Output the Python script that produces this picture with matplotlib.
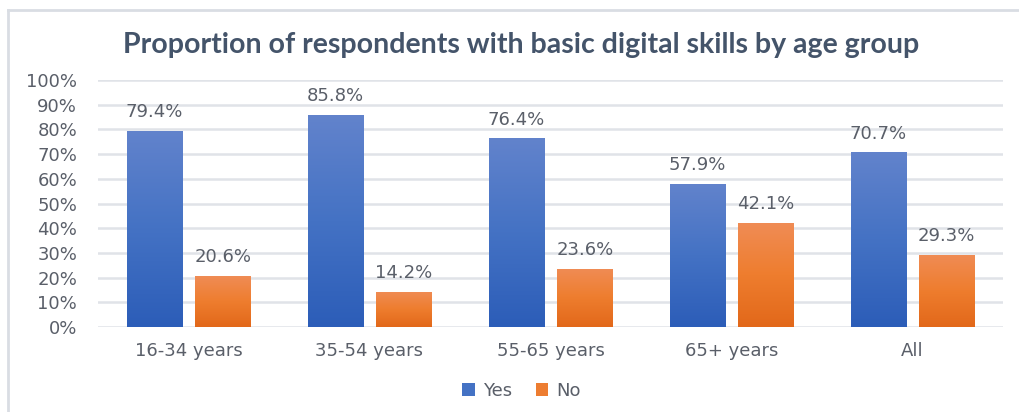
import matplotlib
matplotlib.use("Agg")
import matplotlib.pyplot as plt
import numpy as np
from matplotlib.colors import LinearSegmentedColormap
from matplotlib.lines import Line2D
from matplotlib.patches import Patch

categories = ["16-34 years", "35-54 years", "55-65 years", "65+ years", "All"]
yes_vals = [79.4, 85.8, 76.4, 57.9, 70.7]
no_vals = [20.6, 14.2, 23.6, 42.1, 29.3]
series_names = ["Yes", "No"]
title = "Proportion of respondents with basic digital skills by age group"

fig = plt.figure(figsize=(10.19, 4.12), dpi=100)
ax = fig.add_axes([0.0962, 0.2063, 0.888, 0.5995])

text_col = "#5A5F69"
grid_col = "#E0E3E8"

x = np.arange(len(categories))
w = 0.304
off = 0.19
blue_cmap = LinearSegmentedColormap.from_list("b", ["#2C5DB8", "#4472C4", "#6283CC"])
orange_cmap = LinearSegmentedColormap.from_list("o", ["#E2681A", "#EE7D2E", "#F08C55"])

bars_y = ax.bar(x - off, yes_vals, w, color="#4472C4", zorder=2)
bars_n = ax.bar(x + off, no_vals, w, color="#ED7D31", zorder=2)

grad = np.linspace(0, 1, 256).reshape(-1, 1)
for bars, cmap in ((bars_y, blue_cmap), (bars_n, orange_cmap)):
    for b in bars:
        x0, y0 = b.get_x(), b.get_y()
        x1, y1 = x0 + b.get_width(), y0 + b.get_height()
        im = ax.imshow(grad, cmap=cmap, extent=[x0, x1, y0, y1], origin="lower",
                       aspect="auto", zorder=3, interpolation="bilinear")
        im.set_clip_path(b)
        b.set_facecolor("none")
        b.set_edgecolor("none")

for bars, vals in ((bars_y, yes_vals), (bars_n, no_vals)):
    for b, v in zip(bars, vals):
        ax.annotate(f"{v:.1f}%", (b.get_x() + b.get_width() / 2, v),
                    xytext=(0, 7), textcoords="offset points", ha="center", va="bottom",
                    fontsize=13, color=text_col, family="DejaVu Sans")

ax.set_xlim(-0.5, len(categories) - 0.5)
ax.set_ylim(0, 100)
ax.set_yticks(np.arange(0, 101, 10))
ax.set_yticklabels([f"{t}%" for t in range(0, 101, 10)])
ax.set_xticks(x)
ax.set_xticklabels(categories)
ax.tick_params(axis="both", length=0, labelsize=13, labelcolor=text_col)
ax.tick_params(axis="y", pad=15)
ax.tick_params(axis="x", pad=11)
ax.grid(axis="y", color=grid_col, linewidth=1.8, zorder=0)
ax.set_axisbelow(True)
for s in ax.spines.values():
    s.set_visible(False)

fig.text(0.511, 0.89, title, ha="center", va="center", fontsize=20.5,
         fontweight="bold", family="Lato", color="#44546A")

handles = [Patch(facecolor="#4472C4"), Patch(facecolor="#ED7D31")]
fig.legend(handles, series_names, loc="center", bbox_to_anchor=(0.512, 0.052), ncol=2,
           frameon=False, fontsize=13, labelcolor=text_col, handlelength=0.7,
           handleheight=0.7, handletextpad=0.45, columnspacing=1.3)

fig.add_artist(Line2D([8 / 1019, 1.0], [1 - 10 / 412] * 2, color="#D9DDE3", lw=2))
fig.add_artist(Line2D([8 / 1019] * 2, [0, 1 - 10 / 412], color="#D9DDE3", lw=2))

fig.savefig("out.png", dpi=100)
